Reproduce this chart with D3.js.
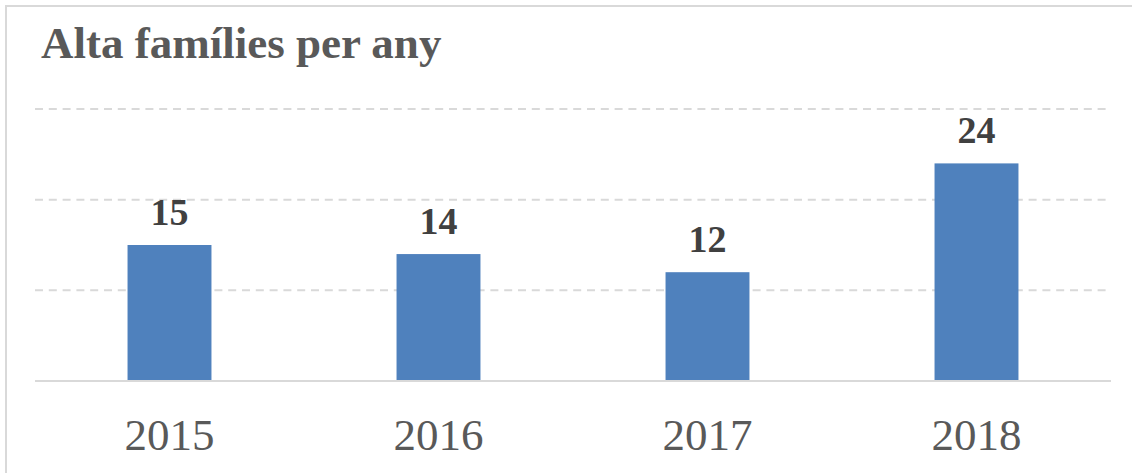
<!DOCTYPE html>
<html>
<head>
<meta charset="utf-8">
<script src="https://cdn.jsdelivr.net/npm/d3@7"></script>
<style>
  body { margin: 0; background: #fff; }
  svg { display: block; }
</style>
</head>
<body>
<div id="chart"></div>
<script>
var title = "Alta famílies per any";
var years = ["2015", "2016", "2017", "2018"];
var altes = [15, 14, 12, 24];
var gridTicks = [10, 20, 30];

var W = 1132, H = 473;
var MARGINS = { left: 35, right: 21, top: 109, bottom: 92 };

var svg = d3.select("#chart").append("svg")
  .attr("width", W).attr("height", H);

// chart frame (only top & left edges visible in the crop)
svg.append("rect")
  .attr("x", 6).attr("y", 6)
  .attr("width", 1300).attr("height", 600)
  .attr("fill", "#fff")
  .attr("stroke", "#d9d9d9").attr("stroke-width", 2);

var xScale = d3.scaleBand()
  .domain(years)
  .range([MARGINS.left, W - MARGINS.right])
  .paddingInner(0.688)
  .paddingOuter(0.344);

var yScale = d3.scaleLinear()
  .domain([0, 30])
  .range([H - MARGINS.bottom, MARGINS.top]);

// dashed gridlines
svg.append("g").selectAll("line")
  .data(gridTicks)
  .enter().append("line")
  .attr("x1", MARGINS.left).attr("x2", W - MARGINS.right - 3)
  .attr("y1", function(d) { return yScale(d); })
  .attr("y2", function(d) { return yScale(d); })
  .attr("stroke", "#d9d9d9")
  .attr("stroke-width", 2)
  .attr("stroke-dasharray", "8,5.8");

// bars
svg.append("g").selectAll("rect")
  .data(altes)
  .enter().append("rect")
  .attr("x", function(d, i) { return xScale(years[i]); })
  .attr("y", function(d) { return yScale(d); })
  .attr("width", xScale.bandwidth())
  .attr("height", function(d) { return yScale(0) - yScale(d); })
  .attr("fill", "#4f81bd");

// value labels
svg.append("g").selectAll("text")
  .data(altes)
  .enter().append("text")
  .attr("x", function(d, i) { return xScale(years[i]) + xScale.bandwidth() / 2; })
  .attr("y", function(d) { return yScale(d) - 20; })
  .attr("text-anchor", "middle")
  .style("font-family", "'Liberation Serif', 'DejaVu Serif', serif")
  .style("font-weight", "bold")
  .style("font-size", "38px")
  .style("fill", "#404040")
  .text(function(d) { return d; });

// x axis
var xAxis = d3.axisBottom(xScale).tickSize(0).tickPadding(0);
var gX = svg.append("g")
  .attr("transform", "translate(0," + yScale(0) + ")")
  .call(xAxis);
gX.select(".domain")
  .attr("d", "M" + MARGINS.left + ",0H" + (W - MARGINS.right))
  .attr("stroke", "#d9d9d9").attr("stroke-width", 2);
gX.selectAll("text")
  .attr("y", 69).attr("dy", 0)
  .style("font-family", "'Liberation Serif', 'DejaVu Serif', serif")
  .style("font-size", "45px")
  .style("fill", "#595959");

// title
svg.append("text")
  .attr("x", 41).attr("y", 58)
  .style("font-family", "'Liberation Serif', 'DejaVu Serif', serif")
  .style("font-weight", "bold")
  .style("font-size", "45px")
  .style("fill", "#595959")
  .text(title);
</script>
</body>
</html>
